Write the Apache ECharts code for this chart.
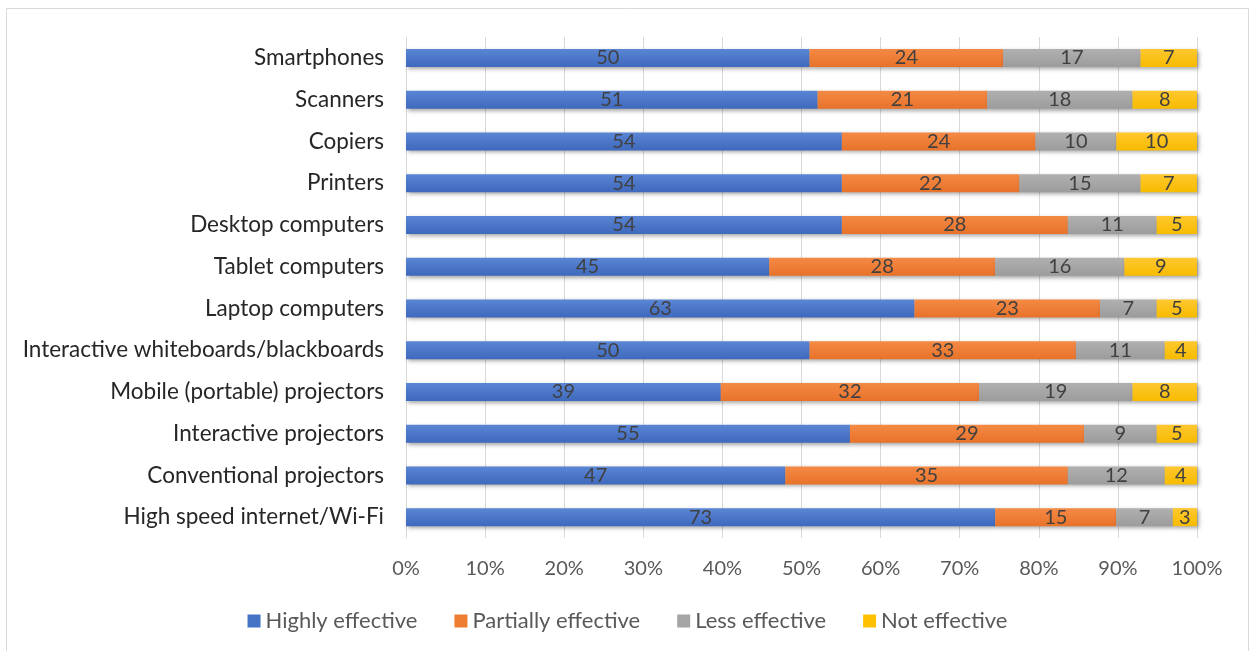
<!DOCTYPE html>
<html>
<head>
<meta charset="utf-8">
<script src="https://cdn.jsdelivr.net/npm/echarts@6/dist/echarts.min.js"></script>
<style>
  html, body { margin: 0; padding: 0; background: #fff; }
  #chart { width: 1255px; height: 651px; }
</style>
</head>
<body>
<div id="chart"></div>
<script>
// Categories listed bottom-to-top (as drawn on the category axis)
const categories = [
  'High speed internet/Wi-Fi',
  'Conventional projectors',
  'Interactive projectors',
  'Mobile (portable) projectors',
  'Interactive whiteboards/blackboards',
  'Laptop computers',
  'Tablet computers',
  'Desktop computers',
  'Printers',
  'Copiers',
  'Scanners',
  'Smartphones'
];
const highlyEffective    = [73, 47, 55, 39, 50, 63, 45, 54, 54, 54, 51, 50];
const partiallyEffective = [15, 35, 29, 32, 33, 23, 28, 28, 22, 24, 21, 24];
const lessEffective      = [7, 12, 9, 19, 11, 7, 16, 11, 15, 10, 18, 17];
const notEffective       = [3, 4, 5, 8, 4, 5, 9, 5, 7, 10, 8, 7];
const seriesNames = ['Highly effective', 'Partially effective', 'Less effective', 'Not effective'];
const xTickLabels = ['0%', '10%', '20%', '30%', '40%', '50%', '60%', '70%', '80%', '90%', '100%'];

// Each bar is shown as its share of the row total (100% stacked)
const rows = [highlyEffective, partiallyEffective, lessEffective, notEffective];
const totals = categories.map((_, i) => rows.reduce((s, r) => s + r[i], 0));

const colors = [
  ['#5b86d4', '#3e69bd'],
  ['#f48a45', '#e8722a'],
  ['#b0b0b0', '#9c9c9c'],
  ['#ffc830', '#f7bb00']
];
const legendColors = ['#4472C4', '#ED7D31', '#A5A5A5', '#FFC000'];

const font = 'Lato, "Open Sans", sans-serif';

const series = rows.map((vals, k) => ({
  name: seriesNames[k],
  type: 'bar',
  stack: 'total',
  barWidth: 18,
  data: vals.map((v, i) => ({ value: v / totals[i] * 100, raw: v })),
  itemStyle: {
    color: new echarts.graphic.LinearGradient(0, 0, 0, 1, [
      { offset: 0, color: colors[k][0] },
      { offset: 1, color: colors[k][1] }
    ]),
    shadowColor: 'rgba(0,0,0,0.35)',
    shadowBlur: 4,
    shadowOffsetX: 2,
    shadowOffsetY: 2
  },
  label: {
    show: true,
    position: 'inside',
    color: '#404040',
    fontFamily: font,
    fontSize: 20,
    formatter: p => p.data.raw
  }
}));

const chart = echarts.init(document.getElementById('chart'));
chart.setOption({
  animation: false,
  color: legendColors,
  graphic: [{
    type: 'rect',
    shape: { x: 6.5, y: 8.5, width: 1242, height: 660 },
    style: { fill: 'none', stroke: '#d9d9d9', lineWidth: 1 },
    silent: true,
    z: -1
  }],
  grid: { left: 406, right: 58, top: 37, bottom: 113, containLabel: false },
  legend: {
    bottom: 14,
    left: 'center',
    itemWidth: 13,
    itemHeight: 13,
    itemGap: 37,
    icon: 'rect',
    textStyle: { color: '#595959', fontFamily: font, fontSize: 22 },
    data: seriesNames.map((n, k) => ({ name: n, itemStyle: { color: legendColors[k] } }))
  },
  xAxis: {
    type: 'value',
    min: 0,
    max: 100,
    interval: 10,
    axisLine: { show: false },
    axisTick: { show: false },
    splitLine: { lineStyle: { color: '#d9d9d9', width: 1 } },
    axisLabel: {
      color: '#595959',
      fontFamily: font,
      fontSize: 20,
      margin: 21,
      formatter: v => xTickLabels[Math.round(v / 10)]
    }
  },
  yAxis: {
    type: 'category',
    data: categories,
    axisLine: { show: true, lineStyle: { color: '#d9d9d9', width: 1 } },
    axisTick: { show: false },
    axisLabel: { color: '#262626', fontFamily: font, fontSize: 22.5, margin: 22 }
  },
  series
});
</script>
</body>
</html>
